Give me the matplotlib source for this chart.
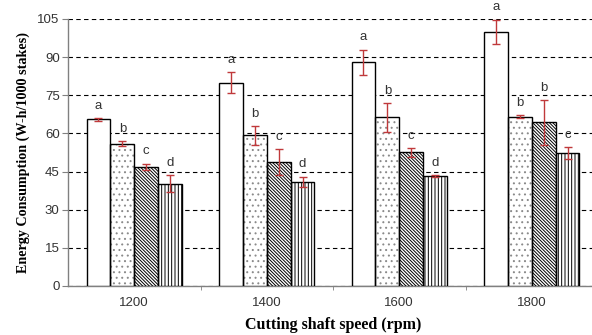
import matplotlib
matplotlib.use("Agg")
import matplotlib.pyplot as plt
import numpy as np

# Cutting shaft speeds (rpm) on the x axis
speeds = ["1200", "1400", "1600", "1800"]

# Mean energy consumption (W-h/1000 stakes) for the four treatments at each speed
series_1 = [65.5, 80.0, 88.0, 100.0]
series_2 = [56.0, 59.2, 66.3, 66.5]
series_3 = [46.8, 48.7, 52.6, 64.3]
series_4 = [40.3, 41.0, 43.3, 52.3]

# Standard deviations
err_1 = [0.6, 4.0, 5.0, 4.8]
err_2 = [1.0, 3.6, 5.7, 0.6]
err_3 = [1.3, 5.0, 1.7, 8.8]
err_4 = [3.3, 2.0, 0.4, 2.4]

# Significance letters
letters_1 = ["a", "a", "a", "a"]
letters_2 = ["b", "b", "b", "b"]
letters_3 = ["c", "c", "c", "b"]
letters_4 = ["d", "d", "d", "c"]

yticks = [0, 15, 30, 45, 60, 75, 90, 105]

plt.rcParams["hatch.linewidth"] = 0.7
plt.rcParams["font.family"] = "Liberation Sans"

fig = plt.figure(figsize=(5.92, 3.35), dpi=100)
ax = fig.add_axes([68 / 592, 1 - 286 / 335, 530 / 592, 267 / 335])

x = np.arange(len(speeds))
width = 0.18
offsets = [-0.27, -0.09, 0.09, 0.27]
hatches = ["", "...", "\\" * 10, "|||||"]
hatch_colors = ["black", "#8a8a8a", "black", "black"]
values = [series_1, series_2, series_3, series_4]
errors = [err_1, err_2, err_3, err_4]
letters = [letters_1, letters_2, letters_3, letters_4]

for vals, errs, lets, off, hatch, hc in zip(values, errors, letters, offsets,
                                            hatches, hatch_colors):
    pos = x + off
    # filled bar carrying the hatch pattern
    ax.bar(pos, vals, width, color="white", edgecolor=hc, linewidth=0,
           hatch=hatch, zorder=3)
    # outline drawn on top
    ax.bar(pos, vals, width, fill=False, edgecolor="black", linewidth=1.0,
           zorder=3.5)
    ax.errorbar(pos, vals, yerr=errs, fmt="none", ecolor="#c0393b",
                elinewidth=1.0, capsize=3, capthick=1.0, zorder=4)
    for p, v, e, t in zip(pos, vals, errs, lets):
        ax.annotate(t, (p, v + e), xytext=(0, 4.5), textcoords="offset points",
                    ha="center", va="bottom", fontsize=9.5, color="#333333",
                    zorder=5)

ax.set_xlim(-0.5, 3.5)
ax.set_ylim(0, 105)
ax.set_yticks(yticks)
ax.set_xticks(x)
ax.set_xticklabels(speeds)
ax.set_xticks([0.5, 1.5, 2.5], minor=True)

ax.yaxis.grid(True, linestyle=(0, (4, 3)), color="black", linewidth=0.8)
ax.set_axisbelow(True)

for side in ["top", "right"]:
    ax.spines[side].set_visible(False)
for side in ["left", "bottom"]:
    ax.spines[side].set_color("#808080")
    ax.spines[side].set_linewidth(1.0)

ax.tick_params(axis="y", direction="out", length=4, color="#808080",
               labelsize=9.5, labelcolor="#333333", pad=2)
ax.tick_params(axis="x", which="major", length=0, labelsize=9.5,
               labelcolor="#333333", pad=8)
ax.tick_params(axis="x", which="minor", direction="out", length=3,
               color="#808080")

ax.set_xlabel("Cutting shaft speed (rpm)", family="Liberation Serif",
              fontweight="bold", fontsize=11.5, labelpad=6)
ax.set_ylabel("Energy Consumption (W-h/1000 stakes)", family="Liberation Serif",
              fontweight="bold", fontsize=10.2, labelpad=5)

fig.savefig("out.png", dpi=100)
